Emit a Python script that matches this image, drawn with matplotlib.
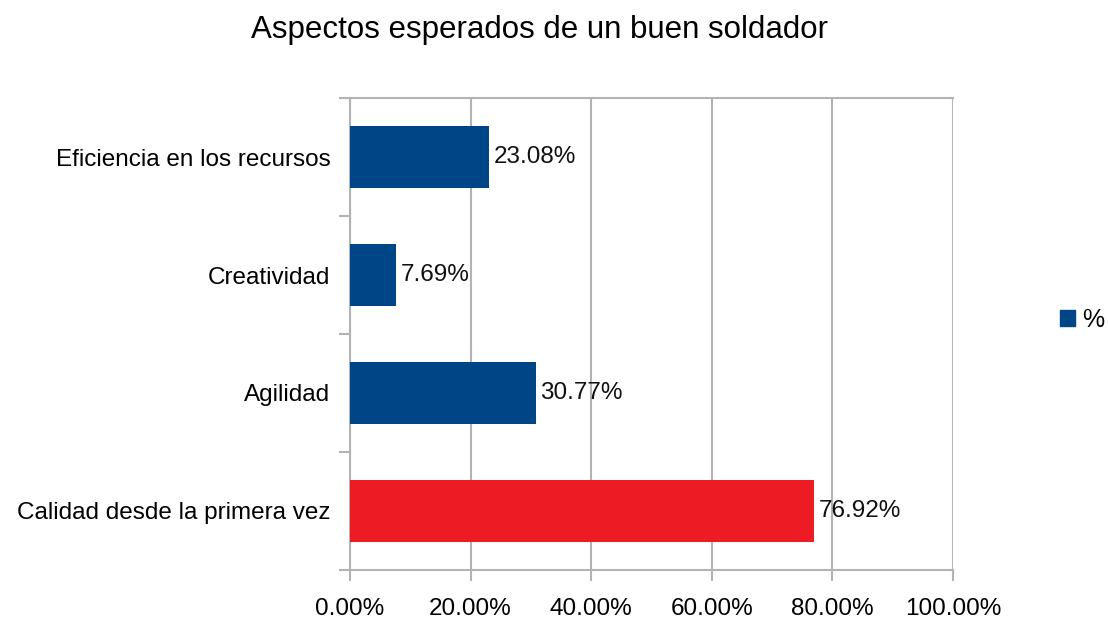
import matplotlib
matplotlib.use("Agg")
from matplotlib import pyplot as plt
from matplotlib.patches import Patch

plt.rcParams["font.family"] = ["Liberation Sans", "DejaVu Sans"]

categorias = ["Eficiencia en los recursos", "Creatividad", "Agilidad", "Calidad desde la primera vez"]
valores = [23.08, 7.69, 30.77, 76.92]
colores = ["#004586", "#004586", "#004586", "#ED1C24"]
xticks = [0, 20, 40, 60, 80, 100]
titulo = "Aspectos esperados de un buen soldador"

fig = plt.figure(figsize=(11.08, 6.18), dpi=100)
ax = fig.add_axes([0.3159, 0.0777, 0.5442, 0.7637])

pos = list(range(len(categorias)))[::-1]
ax.barh(pos, valores, height=0.52, color=colores, zorder=3)
for p, v in zip(pos, valores):
    ax.text(v + 0.8, p, "%.2f%%" % v, va="center", ha="left", fontsize=17.5, color="#111111", zorder=4)

ax.set_xlim(0, 100)
ax.set_ylim(-0.5, 3.5)
ax.set_xticks(xticks)
ax.set_xticklabels(["%.2f%%" % t for t in xticks], fontsize=17.5)
ax.set_yticks(pos)
ax.set_yticklabels(categorias, fontsize=17.5)
ax.set_yticks([-0.5, 0.5, 1.5, 2.5, 3.5], minor=True)
ax.tick_params(axis="y", which="major", length=0, pad=14)
ax.tick_params(axis="y", which="minor", length=8, color="#b3b3b3", width=1.5)
ax.tick_params(axis="x", length=8, color="#b3b3b3", width=1.5, pad=12)
ax.grid(axis="x", color="#b3b3b3", linewidth=1.5, zorder=0)
for s in ["left", "bottom", "top"]:
    ax.spines[s].set_color("#b3b3b3")
    ax.spines[s].set_linewidth(1.5)
ax.spines["right"].set_visible(False)

fig.text(0.487, 0.952, titulo, ha="center", va="center", fontsize=22.5)

fig.legend(handles=[Patch(color="#004586", label="%")], loc="center left",
           bbox_to_anchor=(0.9567, 0.482), frameon=False, fontsize=18,
           borderpad=0, borderaxespad=0,
           handlelength=0.6, handleheight=0.6, handletextpad=0.3)

fig.savefig("out.png", dpi=100)
